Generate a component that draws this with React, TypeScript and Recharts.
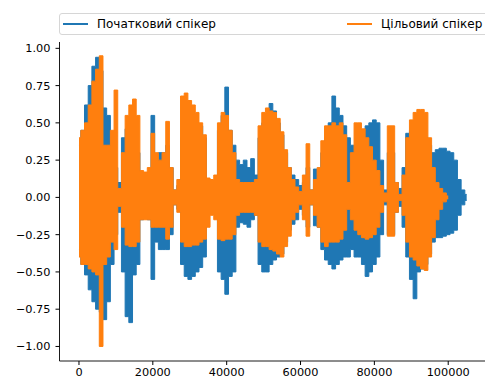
import React from "react";
import { ComposedChart, Area, XAxis, YAxis, Legend } from "recharts";

// Waveform envelopes, one bin per 1000 samples.
const binSize = 1000;

const blueHigh = [
  0.35, 0.45, 0.62, 0.75, 0.88, 0.94, 0.85, 0.6, 0.55, 0.35,
  0.2, 0.1, 0.4, 0.46, 0.45, 0.4, 0.3, 0.12, 0.12, 0.15,
  0.55, 0.25, 0.3, 0.3, 0.35, 0.2, 0.05, 0.08, 0.4, 0.5,
  0.5, 0.5, 0.5, 0.48, 0.4, 0.1, 0.08, 0.1, 0.45, 0.55,
  0.74, 0.45, 0.35, 0.25, 0.22, 0.25, 0.2, 0.26, 0.15, 0.4,
  0.5, 0.55, 0.63, 0.58, 0.5, 0.42, 0.3, 0.2, 0.15, 0.12,
  0.08, 0.1, 0.2, 0.05, 0.19, 0.15, 0.3, 0.4, 0.5, 0.68,
  0.6, 0.55, 0.48, 0.4, 0.35, 0.35, 0.35, 0.45, 0.48, 0.5,
  0.52, 0.5, 0.25, 0.05, 0.3, 0.3, 0.1, 0.06, 0.2, 0.43,
  0.45, 0.45, 0.45, 0.45, 0.4, 0.35, 0.3, 0.32, 0.33, 0.33,
  0.31, 0.3, 0.25, 0.12, 0.05, 0.02,
];

const blueLow = [
  -0.35, -0.45, -0.52, -0.62, -0.7, -0.75, -0.77, -0.82, -0.7, -0.45,
  -0.25, -0.1, -0.5, -0.8, -0.84, -0.52, -0.45, -0.15, -0.12, -0.15,
  -0.55, -0.3, -0.35, -0.35, -0.35, -0.25, -0.05, -0.08, -0.45, -0.53,
  -0.55, -0.53, -0.5, -0.47, -0.4, -0.1, -0.08, -0.1, -0.5, -0.55,
  -0.65, -0.53, -0.5, -0.2, -0.17, -0.18, -0.2, -0.15, -0.12, -0.45,
  -0.5, -0.5, -0.45, -0.42, -0.4, -0.38, -0.3, -0.22, -0.18, -0.15,
  -0.08, -0.12, -0.2, -0.05, -0.19, -0.2, -0.35, -0.42, -0.45, -0.48,
  -0.45, -0.42, -0.4, -0.4, -0.35, -0.4, -0.4, -0.45, -0.53, -0.5,
  -0.45, -0.4, -0.25, -0.05, -0.25, -0.25, -0.1, -0.06, -0.2, -0.4,
  -0.55, -0.68, -0.5, -0.48, -0.45, -0.38, -0.3, -0.27, -0.27, -0.26,
  -0.25, -0.24, -0.22, -0.12, -0.05, -0.02,
];

const orangeHigh = [
  0.4, 0.45, 0.5, 0.62, 0.78, 0.86, 0.95, 0.35, 0.35, 0.45,
  0.72, 0.06, 0.3, 0.55, 0.62, 0.66, 0.55, 0.18, 0.17, 0.2,
  0.43, 0.3, 0.25, 0.3, 0.51, 0.2, 0.05, 0.12, 0.68, 0.7,
  0.65, 0.62, 0.57, 0.5, 0.42, 0.13, 0.12, 0.15, 0.5, 0.57,
  0.55, 0.45, 0.3, 0.12, 0.1, 0.1, 0.1, 0.1, 0.12, 0.48,
  0.57, 0.6, 0.58, 0.57, 0.53, 0.44, 0.32, 0.2, 0.12, 0.07,
  0.04, 0.15, 0.36, 0.05, 0.12, 0.2, 0.38, 0.48, 0.48, 0.5,
  0.48, 0.5, 0.42, 0.1, 0.3, 0.5, 0.5, 0.46, 0.4, 0.34,
  0.25, 0.18, 0.08, 0.03, 0.48, 0.48, 0.1, 0.02, 0.15, 0.4,
  0.52, 0.57, 0.59, 0.59, 0.57, 0.4, 0.2, 0.1, 0.06, 0.03,
  0.01,
];

const orangeLow = [
  -0.4, -0.45, -0.45, -0.48, -0.5, -0.52, -1.0, -0.45, -0.4, -0.3,
  -0.35, -0.06, -0.2, -0.32, -0.33, -0.33, -0.3, -0.15, -0.15, -0.15,
  -0.2, -0.2, -0.2, -0.2, -0.28, -0.2, -0.05, -0.1, -0.3, -0.33,
  -0.33, -0.32, -0.32, -0.3, -0.28, -0.2, -0.12, -0.15, -0.28, -0.29,
  -0.28, -0.28, -0.25, -0.12, -0.1, -0.1, -0.1, -0.1, -0.12, -0.3,
  -0.33, -0.33, -0.35, -0.36, -0.38, -0.4, -0.33, -0.26, -0.15, -0.1,
  -0.05, -0.15, -0.26, -0.05, -0.12, -0.2, -0.3, -0.33, -0.3, -0.3,
  -0.3, -0.28, -0.22, -0.08, -0.15, -0.22, -0.25, -0.27, -0.28, -0.27,
  -0.25, -0.2, -0.1, -0.03, -0.26, -0.26, -0.1, -0.02, -0.12, -0.3,
  -0.4, -0.42, -0.46, -0.48, -0.49, -0.4, -0.27, -0.15, -0.08, -0.03,
  -0.01,
];

const xTicks = [0, 20000, 40000, 60000, 80000, 100000];
const yTicks = [-1, -0.75, -0.5, -0.25, 0, 0.25, 0.5, 0.75, 1];

const seriesNames = ["Початковий спікер", "Цільовий спікер"];
const seriesColors = ["#1f77b4", "#ff7f0e"];

const data = blueHigh.map((hi, i) => ({
  x: i * binSize,
  b: [blueLow[i], hi],
  o: i < orangeHigh.length ? [orangeLow[i], orangeHigh[i]] : null,
}));

const FONT = "'DejaVu Sans', sans-serif";
const FS = 11.3;
const LEGEND_FS = 12;

const fmtY = (v: number) => v.toFixed(2).replace("-", "\u2212");

const LegendBox = () => (
  <div
    style={{
      position: "relative",
      width: 432,
      height: 22,
      border: "1px solid #d6d6d6",
      borderRadius: 3,
      background: "rgba(255,255,255,0.8)",
      boxSizing: "border-box",
      fontFamily: FONT,
      fontSize: LEGEND_FS,
      color: "#000",
    }}
  >
    <div style={{ position: "absolute", left: 3, top: 9.5, width: 25, height: 1.5, background: seriesColors[0] }} />
    <div style={{ position: "absolute", left: 37, top: 0, lineHeight: "20px", whiteSpace: "nowrap" }}>{seriesNames[0]}</div>
    <div style={{ position: "absolute", left: 287, top: 9.5, width: 25, height: 1.5, background: seriesColors[1] }} />
    <div style={{ position: "absolute", left: 321, top: 0, lineHeight: "20px", whiteSpace: "nowrap" }}>{seriesNames[1]}</div>
  </div>
);

export default function App() {
  return (
    <div style={{ position: "fixed", left: 0, top: 0, width: 485, height: 381, overflow: "hidden", background: "#fff" }}>
      <ComposedChart width={490} height={381} data={data} margin={{ top: 42, right: 2, bottom: 0, left: 0 }}>
        <XAxis
          dataKey="x"
          type="number"
          domain={[-5275, 110775]}
          allowDataOverflow
          ticks={xTicks}
          tickSize={4}
          tickMargin={3}
          height={20}
          stroke="#000"
          tick={{ fill: "#000", fontSize: FS, fontFamily: FONT }}
          tickLine={{ stroke: "#000" }}
          axisLine={{ stroke: "#000", strokeWidth: 0.9 }}
        />
        <XAxis
          xAxisId="top"
          orientation="top"
          dataKey="x"
          type="number"
          domain={[-5275, 110775]}
          allowDataOverflow
          height={0}
          tick={false}
          tickLine={false}
          axisLine={{ stroke: "#000", strokeWidth: 0.9 }}
        />
        <YAxis
          type="number"
          domain={[-1.0975, 1.0425]}
          allowDataOverflow
          ticks={yTicks}
          tickFormatter={fmtY}
          width={59.5}
          tickSize={4}
          tickMargin={5}
          stroke="#000"
          tick={{ fill: "#000", fontSize: FS, fontFamily: FONT }}
          tickLine={{ stroke: "#000" }}
          axisLine={{ stroke: "#000", strokeWidth: 0.9 }}
        />
        <Legend
          layout="horizontal"
          verticalAlign="middle"
          align="center"
          content={() => <LegendBox />}
          wrapperStyle={{ position: "absolute", top: 12.5, left: 59, width: 432, height: 22 }}
        />
        <Area
          name={seriesNames[0]}
          dataKey="b"
          type="step"
          stroke={seriesColors[0]}
          strokeWidth={1}
          fill={seriesColors[0]}
          fillOpacity={1}
          isAnimationActive={false}
          dot={false}
          activeDot={false}
        />
        <Area
          name={seriesNames[1]}
          dataKey="o"
          type="step"
          stroke={seriesColors[1]}
          strokeWidth={1}
          fill={seriesColors[1]}
          fillOpacity={1}
          isAnimationActive={false}
          dot={false}
          activeDot={false}
        />
      </ComposedChart>
    </div>
  );
}
